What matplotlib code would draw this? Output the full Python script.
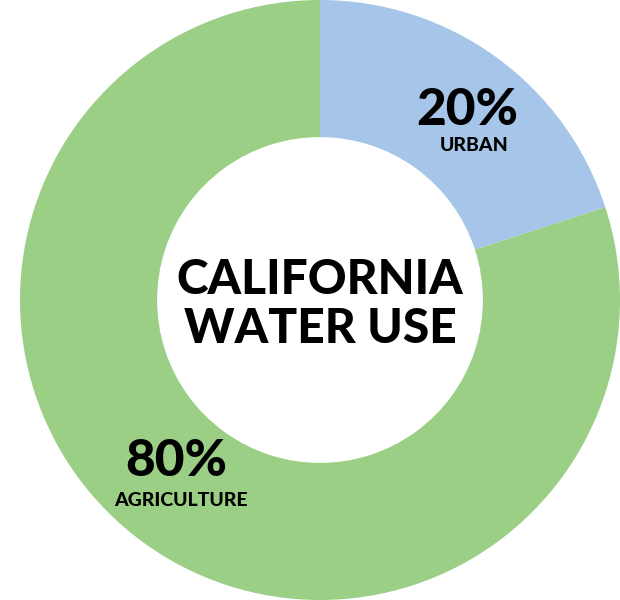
import matplotlib.pyplot as plt

# ---------- data ----------
labels = ["URBAN", "AGRICULTURE"]
shares = [20, 80]
colors = ["#a5c6e9", "#9bcf86"]
title_lines = ["CALIFORNIA", "WATER USE"]

fig = plt.figure(figsize=(6.2, 6.0), dpi=100)
fig.patch.set_facecolor("white")
# donut fills the figure height, right edge touches the border
ax = fig.add_axes([20 / 620, 0, 600 / 620, 1])

ax.pie(shares, colors=colors, startangle=90, counterclock=False,
       radius=1.0, wedgeprops=dict(width=0.457, linewidth=0))
ax.set_xlim(-1, 1)
ax.set_ylim(-1, 1)
ax.set_aspect("equal")
ax.axis("off")

font = ["Lato", "DejaVu Sans"]

# centre title
ax.text(0.0, 0.067, title_lines[0], ha="center", va="center",
        fontsize=34.5, fontweight="black", family=font)
ax.text(0.0, -0.097, title_lines[1], ha="center", va="center",
        fontsize=34.5, fontweight="black", family=font)

# segment labels
ax.text(0.49, 0.633, f"{shares[0]}%", ha="center", va="center",
        fontsize=37, fontweight="black", family=font)
ax.text(0.513, 0.515, labels[0], ha="center", va="center",
        fontsize=14, fontweight="black", family=font)

ax.text(-0.478, -0.54, f"{shares[1]}%", ha="center", va="center",
        fontsize=37, fontweight="black", family=font)
ax.text(-0.463, -0.667, labels[1], ha="center", va="center",
        fontsize=14, fontweight="black", family=font)

fig.savefig("out.png", dpi=100, facecolor="white")
